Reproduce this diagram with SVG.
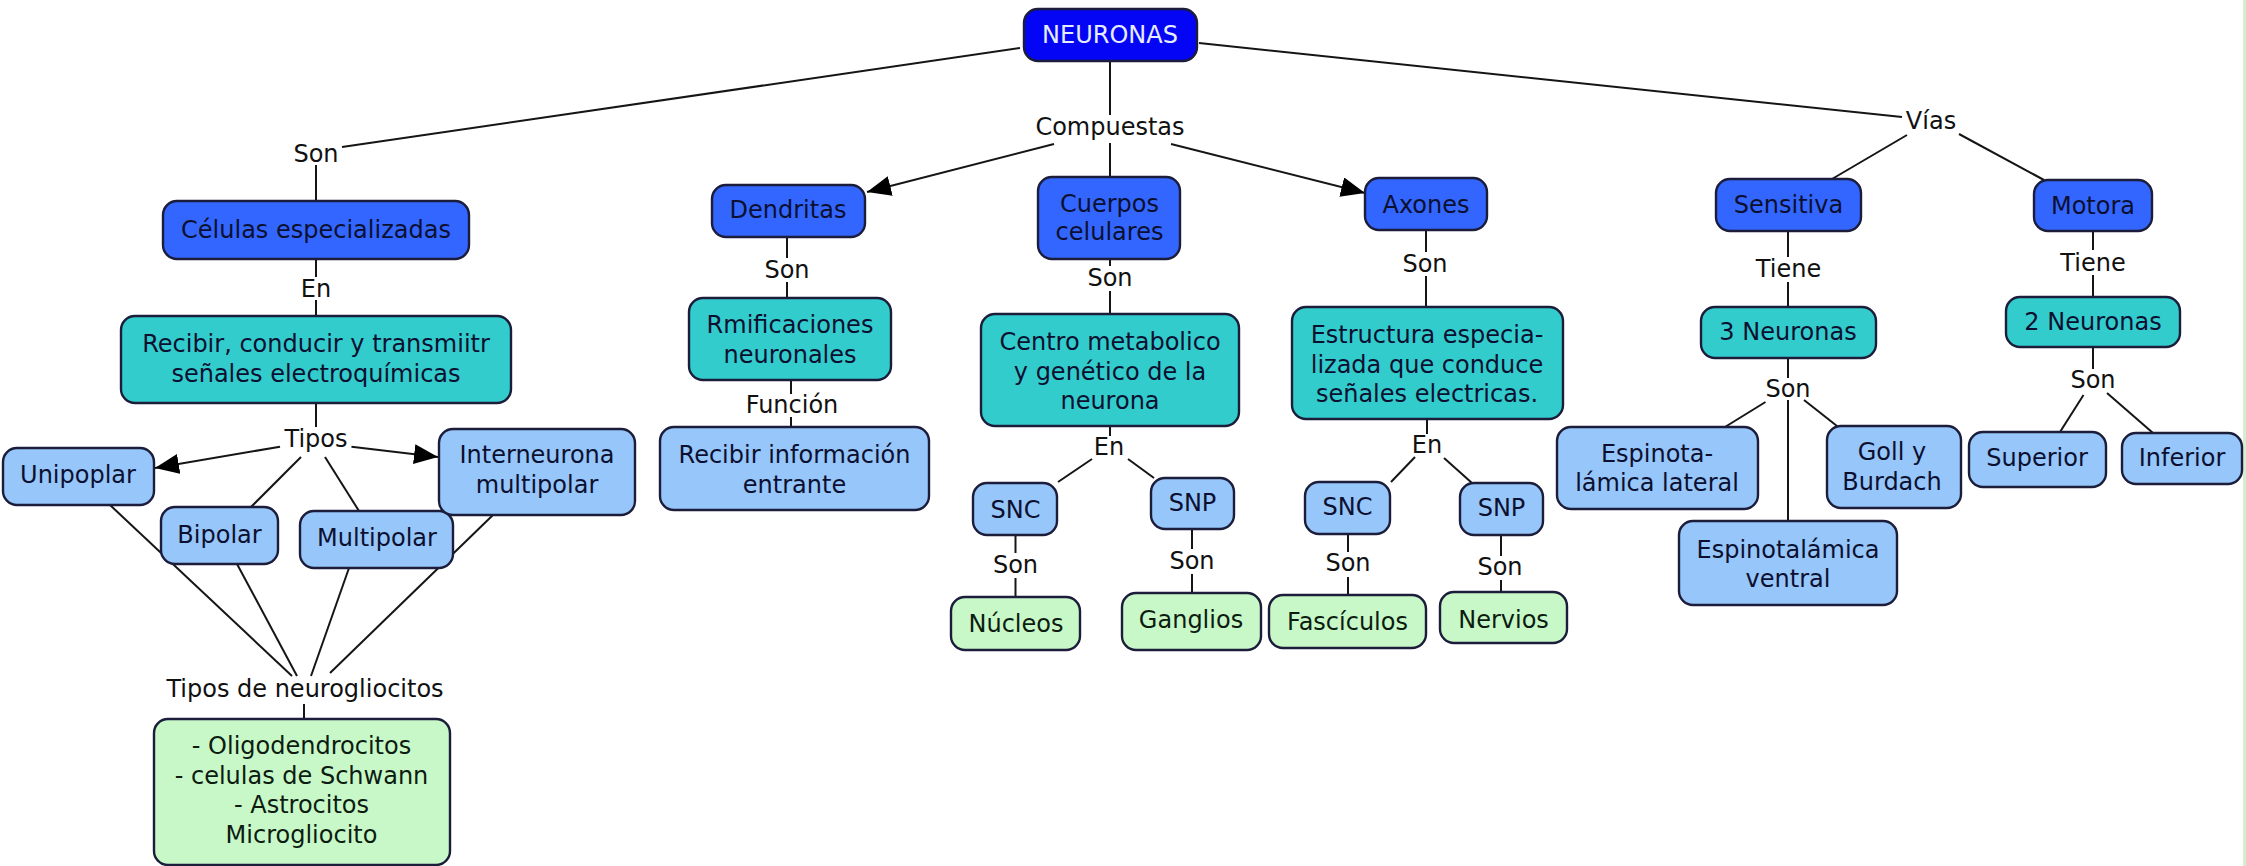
<svg xmlns="http://www.w3.org/2000/svg" width="2246" height="866" viewBox="0 0 2246 866">
<defs>
<style>
.n rect{stroke:#1b1d3a;stroke-width:2.4}
.b rect{fill:#3366ff}
.t rect{fill:#33cccc}
.l rect{fill:#96c6fa}
.g rect{fill:#c8f8c8}
.top rect{fill:#0505f5}
text{font-family:"DejaVu Sans","Verdana",sans-serif;font-size:24px;text-anchor:middle;fill:#0c1030}
.g text{fill:#0c1c10}
.top text{fill:#e6ecff}
.lbl text{fill:#111111}
#connectors line{stroke:#151515;stroke-width:2}
</style>
<marker id="ah" markerUnits="userSpaceOnUse" markerWidth="26" markerHeight="22" refX="24" refY="10" orient="auto">
<path d="M0,0 L24,10 L0,20 Z" fill="#000"/>
</marker>
</defs>
<rect width="2246" height="866" fill="#ffffff"/>
<line x1="2244.5" y1="0" x2="2244.5" y2="866" stroke="#d2efd2" stroke-width="3"/>
<g id="connectors">
<line x1="1020" y1="48" x2="342" y2="147"/>
<line x1="316" y1="165" x2="316" y2="201"/>
<line x1="316" y1="259" x2="316" y2="277"/>
<line x1="316" y1="300" x2="316" y2="316"/>
<line x1="316" y1="403" x2="316" y2="427"/>
<line x1="280" y1="446.7" x2="155" y2="468" marker-end="url(#ah)"/>
<line x1="351.5" y1="446.7" x2="438" y2="457" marker-end="url(#ah)"/>
<line x1="301" y1="457" x2="251" y2="507"/>
<line x1="325" y1="457" x2="359" y2="511"/>
<line x1="110" y1="505" x2="292" y2="676"/>
<line x1="237" y1="564" x2="297" y2="676"/>
<line x1="349" y1="568" x2="311" y2="676"/>
<line x1="493" y1="515" x2="330" y2="673"/>
<line x1="304" y1="704" x2="304" y2="719"/>
<line x1="1110" y1="61" x2="1110" y2="115"/>
<line x1="1054" y1="144" x2="867" y2="192" marker-end="url(#ah)"/>
<line x1="1110" y1="143" x2="1110" y2="177"/>
<line x1="1171" y1="144" x2="1365" y2="193" marker-end="url(#ah)"/>
<line x1="787" y1="237" x2="787" y2="258"/>
<line x1="787" y1="282" x2="787" y2="298"/>
<line x1="791" y1="380" x2="791" y2="394"/>
<line x1="791" y1="417" x2="791" y2="427"/>
<line x1="1110" y1="259" x2="1110" y2="266"/>
<line x1="1110" y1="291" x2="1110" y2="314"/>
<line x1="1110" y1="426" x2="1110" y2="436"/>
<line x1="1092" y1="459" x2="1058" y2="482"/>
<line x1="1128" y1="459" x2="1154" y2="478"/>
<line x1="1015.5" y1="535" x2="1015.5" y2="553"/>
<line x1="1015.5" y1="578" x2="1015.5" y2="597"/>
<line x1="1192" y1="529" x2="1192" y2="549"/>
<line x1="1192" y1="574" x2="1192" y2="593"/>
<line x1="1426" y1="230" x2="1426" y2="252"/>
<line x1="1426" y1="276" x2="1426" y2="307"/>
<line x1="1427" y1="419" x2="1427" y2="434"/>
<line x1="1415" y1="457" x2="1391" y2="482"/>
<line x1="1444" y1="458" x2="1472" y2="483"/>
<line x1="1348" y1="534" x2="1348" y2="552"/>
<line x1="1348" y1="577" x2="1348" y2="595"/>
<line x1="1501" y1="535" x2="1501" y2="556"/>
<line x1="1501" y1="580" x2="1501" y2="592"/>
<line x1="1199" y1="43" x2="1902" y2="117"/>
<line x1="1907" y1="135" x2="1832" y2="179"/>
<line x1="1959" y1="134" x2="2044" y2="180"/>
<line x1="1788" y1="231" x2="1788" y2="257"/>
<line x1="1788" y1="282" x2="1788" y2="307"/>
<line x1="2093" y1="231" x2="2093" y2="250"/>
<line x1="2093" y1="275" x2="2093" y2="297"/>
<line x1="1788" y1="358" x2="1788" y2="378"/>
<line x1="1788" y1="400" x2="1788" y2="521"/>
<line x1="1765.5" y1="402" x2="1725" y2="427"/>
<line x1="1804" y1="400" x2="1837" y2="426"/>
<line x1="2093" y1="347" x2="2093" y2="369"/>
<line x1="2083.5" y1="395" x2="2060" y2="432"/>
<line x1="2107" y1="393" x2="2153" y2="433"/>
</g>
<g id="labels" class="lbl">
<text x="316" y="162">Son</text>
<text x="316" y="297">En</text>
<text x="316" y="447">Tipos</text>
<text x="305" y="697">Tipos de neurogliocitos</text>
<text x="1110" y="135">Compuestas</text>
<text x="787" y="278">Son</text>
<text x="792" y="413">Función</text>
<text x="1110" y="286">Son</text>
<text x="1425" y="271.5">Son</text>
<text x="1109" y="455">En</text>
<text x="1015.5" y="573">Son</text>
<text x="1192" y="568.5">Son</text>
<text x="1427" y="453">En</text>
<text x="1348" y="571">Son</text>
<text x="1500" y="575">Son</text>
<text x="1931" y="128.5">Vías</text>
<text x="1788.5" y="276.5">Tiene</text>
<text x="2093" y="270.5">Tiene</text>
<text x="1788" y="397">Son</text>
<text x="2093" y="388">Son</text>
</g>
<g id="neuronas" class="n top"><rect x="1024" y="9" width="173" height="52" rx="14"/><text x="1110" y="43">NEURONAS</text></g>
<g id="celulas" class="n b"><rect x="163" y="201" width="306" height="58" rx="14"/><text x="316" y="238">Células especializadas</text></g>
<g id="recibir" class="n t"><rect x="121" y="316" width="390" height="87" rx="14"/><text x="316" y="352">Recibir, conducir y transmiitr</text><text x="316" y="382">señales electroquímicas</text></g>
<g id="unipoplar" class="n l"><rect x="3" y="448" width="151" height="57" rx="14"/><text x="78" y="483">Unipoplar</text></g>
<g id="bipolar" class="n l"><rect x="161" y="507" width="117" height="57" rx="14"/><text x="219.5" y="543">Bipolar</text></g>
<g id="multipolar" class="n l"><rect x="300" y="511" width="153" height="57" rx="14"/><text x="377" y="546">Multipolar</text></g>
<g id="interneurona" class="n l"><rect x="439" y="429" width="196" height="86" rx="14"/><text x="537" y="463">Interneurona</text><text x="537" y="493">multipolar</text></g>
<g id="neurogliocitos" class="n g"><rect x="154" y="719" width="296" height="146" rx="14"/><text x="301.5" y="754">- Oligodendrocitos</text><text x="301.5" y="783.5">- celulas de Schwann</text><text x="301.5" y="813">- Astrocitos</text><text x="301.5" y="843">Microgliocito</text></g>
<g id="dendritas" class="n b"><rect x="712" y="185" width="153" height="52" rx="14"/><text x="788" y="218">Dendritas</text></g>
<g id="ramificaciones" class="n t"><rect x="689" y="298" width="202" height="82" rx="14"/><text x="790" y="333">Rmificaciones</text><text x="790" y="363">neuronales</text></g>
<g id="recibir-info" class="n l"><rect x="660" y="427" width="269" height="83" rx="14"/><text x="794.5" y="463">Recibir información</text><text x="794.5" y="493">entrante</text></g>
<g id="cuerpos" class="n b"><rect x="1038" y="177" width="142" height="82" rx="14"/><text x="1109.5" y="212">Cuerpos</text><text x="1109.5" y="240">celulares</text></g>
<g id="centro" class="n t"><rect x="981" y="314" width="258" height="112" rx="14"/><text x="1110" y="350">Centro metabolico</text><text x="1110" y="379.5">y genético de la</text><text x="1110" y="409">neurona</text></g>
<g id="snc1" class="n l"><rect x="973" y="483" width="84" height="52" rx="14"/><text x="1015.5" y="518">SNC</text></g>
<g id="snp1" class="n l"><rect x="1151" y="478" width="83" height="51" rx="14"/><text x="1192.5" y="511">SNP</text></g>
<g id="nucleos" class="n g"><rect x="951" y="597" width="129" height="53" rx="14"/><text x="1016" y="632">Núcleos</text></g>
<g id="ganglios" class="n g"><rect x="1122" y="593" width="139" height="57" rx="14"/><text x="1191" y="628">Ganglios</text></g>
<g id="axones" class="n b"><rect x="1365" y="178" width="122" height="52" rx="14"/><text x="1426" y="213">Axones</text></g>
<g id="estructura" class="n t"><rect x="1292" y="307" width="271" height="112" rx="14"/><text x="1427" y="343">Estructura especia-</text><text x="1427" y="372.5">lizada que conduce</text><text x="1427" y="402">señales electricas.</text></g>
<g id="snc2" class="n l"><rect x="1305" y="482" width="85" height="52" rx="14"/><text x="1347.5" y="515">SNC</text></g>
<g id="snp2" class="n l"><rect x="1460" y="483" width="83" height="52" rx="14"/><text x="1501.5" y="516">SNP</text></g>
<g id="fasciculos" class="n g"><rect x="1269" y="595" width="157" height="53" rx="14"/><text x="1347.5" y="630">Fascículos</text></g>
<g id="nervios" class="n g"><rect x="1440" y="592" width="127" height="51" rx="14"/><text x="1503.5" y="628">Nervios</text></g>
<g id="sensitiva" class="n b"><rect x="1716" y="179" width="145" height="52" rx="14"/><text x="1788.5" y="213">Sensitiva</text></g>
<g id="tres-neuronas" class="n t"><rect x="1701" y="307" width="175" height="51" rx="14"/><text x="1788" y="340">3 Neuronas</text></g>
<g id="espino-lateral" class="n l"><rect x="1557" y="427" width="201" height="82" rx="14"/><text x="1657" y="461.5">Espinota-</text><text x="1657" y="490.5">lámica lateral</text></g>
<g id="goll" class="n l"><rect x="1827" y="426" width="134" height="82" rx="14"/><text x="1892" y="460">Goll y</text><text x="1892" y="490">Burdach</text></g>
<g id="espino-ventral" class="n l"><rect x="1679" y="521" width="218" height="84" rx="14"/><text x="1788" y="558">Espinotalámica</text><text x="1788" y="587">ventral</text></g>
<g id="motora" class="n b"><rect x="2034" y="180" width="118" height="51" rx="14"/><text x="2093" y="214">Motora</text></g>
<g id="dos-neuronas" class="n t"><rect x="2006" y="297" width="174" height="50" rx="14"/><text x="2093" y="330">2 Neuronas</text></g>
<g id="superior" class="n l"><rect x="1969" y="432" width="137" height="55" rx="14"/><text x="2037" y="465.5">Superior</text></g>
<g id="inferior" class="n l"><rect x="2122" y="433" width="120" height="51" rx="14"/><text x="2182" y="465.5">Inferior</text></g>
</svg>
